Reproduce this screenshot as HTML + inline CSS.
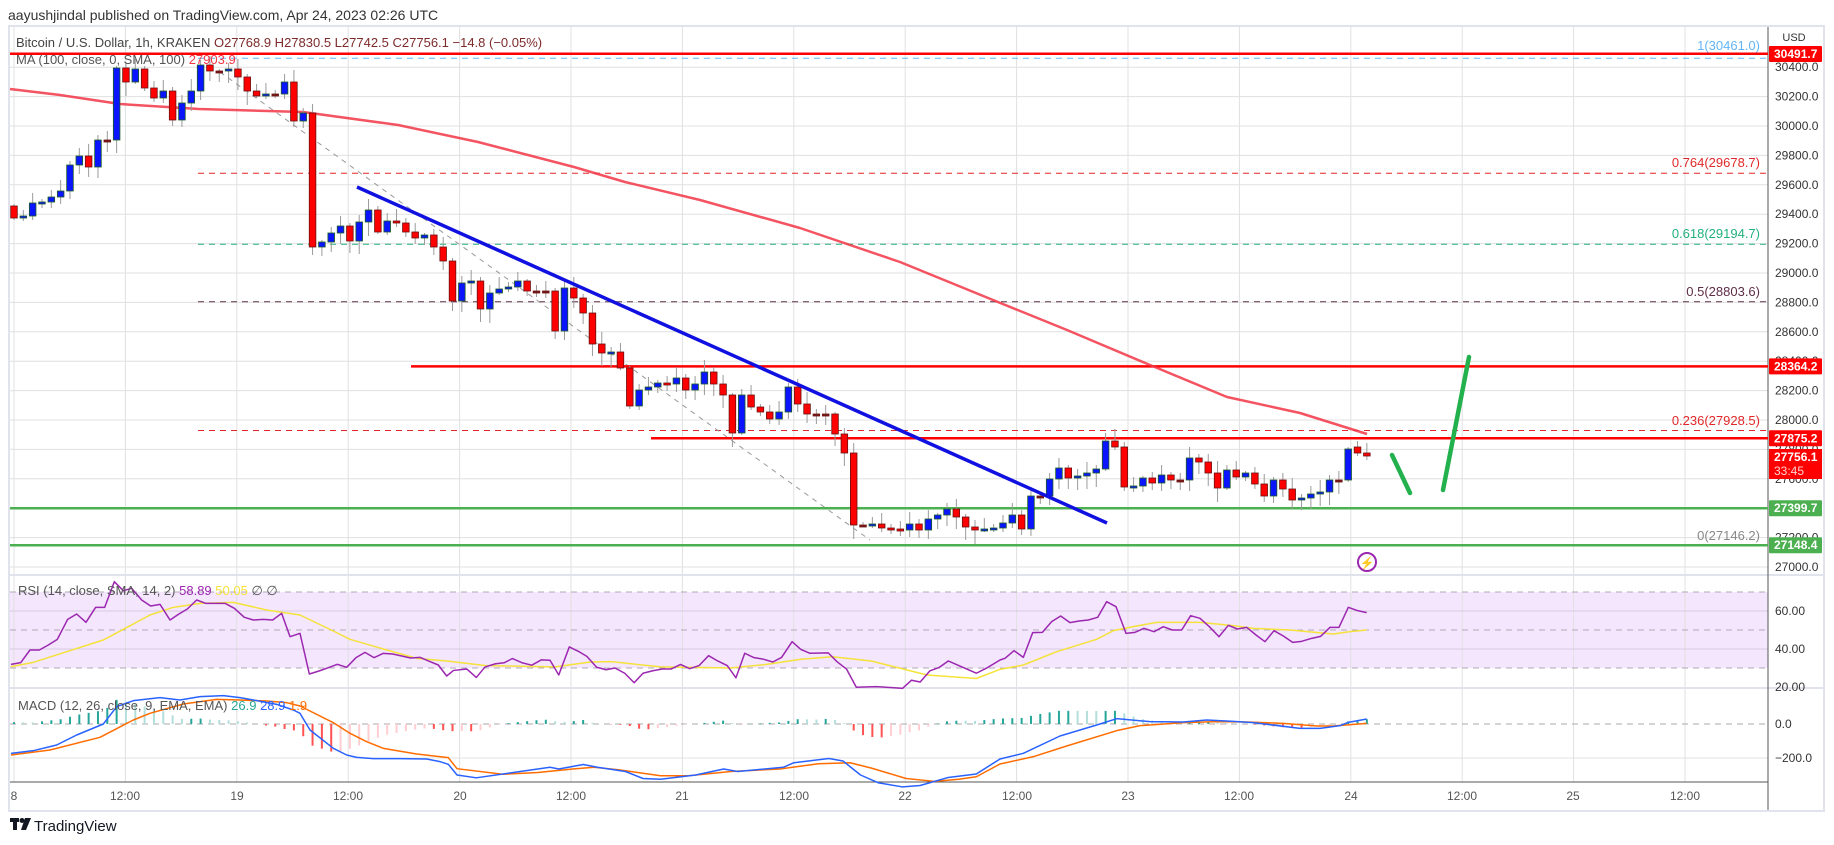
<!DOCTYPE html>
<html><head><meta charset="utf-8"><style>
html,body{margin:0;padding:0;background:#fff;width:1834px;height:845px;overflow:hidden;font-family:"Liberation Sans",sans-serif}
svg{position:absolute;left:0;top:0}
</style></head><body>
<svg id="s" width="1834" height="845" xmlns="http://www.w3.org/2000/svg" font-family="Liberation Sans, sans-serif">
<rect x="9" y="26" width="1815" height="785" fill="#fff" stroke="#e0e3eb" stroke-width="2"/>
<rect x="10" y="592" width="1758" height="76" fill="#f3e6fd"/>
<g id="grid"></g>
<g id="fib"></g>
<g id="plot"></g>
<!-- text labels -->
<text x="8" y="20" font-size="14" fill="#333">aayushjindal published on TradingView.com, Apr 24, 2023 02:26 UTC</text>
<text x="16" y="47" font-size="13" fill="#444">Bitcoin / U.S. Dollar, 1h, KRAKEN <tspan fill="#7d2a2a">O27768.9  H27830.5  L27742.5  C27756.1  −14.8 (−0.05%)</tspan></text>
<text x="16" y="64" font-size="13" fill="#555">MA (100, close, 0, SMA, 100) <tspan fill="#f23645">27903.9</tspan></text>
<text x="18" y="595" font-size="13" fill="#555">RSI (14, close, SMA, 14, 2) <tspan fill="#9c27b0">58.89</tspan> <tspan fill="#f5e23a">50.05</tspan> <tspan fill="#555">∅ ∅</tspan></text>
<text x="18" y="710" font-size="13" fill="#555">MACD (12, 26, close, 9, EMA, EMA) <tspan fill="#26a69a">26.9</tspan> <tspan fill="#2962ff">28.9</tspan> <tspan fill="#ff6d00">1.9</tspan></text>
<g font-size="13" text-anchor="end">
<text x="1760" y="50" fill="#64b5f6">1(30461.0)</text>
<text x="1760" y="167" fill="#e0282a">0.764(29678.7)</text>
<text x="1760" y="238" fill="#22b07d">0.618(29194.7)</text>
<text x="1760" y="296" fill="#5d2e46">0.5(28803.6)</text>
<text x="1760" y="425" fill="#e0282a">0.236(27928.5)</text>
<text x="1760" y="540" fill="#888">0(27146.2)</text>
</g>
<text x="1794" y="41" font-size="11" fill="#333" text-anchor="middle">USD</text>
<g id="axis" font-size="12" fill="#333"></g>
<g id="tags" font-size="12" font-weight="bold"></g>
<g font-size="12" fill="#555" text-anchor="middle">
<text x="14" y="800">8</text><text x="125" y="800">12:00</text><text x="237" y="800">19</text><text x="348" y="800">12:00</text>
<text x="460" y="800">20</text><text x="571" y="800">12:00</text><text x="682" y="800">21</text><text x="794" y="800">12:00</text>
<text x="905" y="800">22</text><text x="1017" y="800">12:00</text><text x="1128" y="800">23</text><text x="1239" y="800">12:00</text>
<text x="1351" y="800">24</text><text x="1462" y="800">12:00</text><text x="1573" y="800">25</text><text x="1685" y="800">12:00</text>
</g>
<g transform="translate(10,818)"><rect x="0" y="0" width="9" height="4" fill="#131722"/><rect x="3" y="0" width="4" height="12" fill="#131722"/><circle cx="12" cy="2.5" r="2.5" fill="#131722"/><path d="M15 0 H21 L16 12 H11 Z" fill="#131722"/></g>
<text x="34" y="831" font-size="15" fill="#131722">TradingView</text>
<circle cx="1367" cy="562" r="9" fill="#fff" stroke="#9c27b0" stroke-width="2"/>
<text x="1367" y="567" font-size="12" fill="#9c27b0" text-anchor="middle">⚡</text>
</svg>
<script>
const NS="http://www.w3.org/2000/svg";
function el(p,t,a){const e=document.createElementNS(NS,t);for(const k in a)e.setAttribute(k,a[k]);p.appendChild(e);return e;}
const grid=document.getElementById('grid'),fib=document.getElementById('fib'),plot=document.getElementById('plot'),axis=document.getElementById('axis'),tags=document.getElementById('tags');
const py=p=>567-(p-27000)*0.147;
// vertical grid
for(let k=0;k<16;k++){const x=14+111.4*k;el(grid,'line',{x1:x,y1:27,x2:x,y2:782,stroke:'#e0e0e0','stroke-width':1});}
// horizontal grid main
for(let p=27000;p<=30400;p+=200){const y=py(p);el(grid,'line',{x1:10,y1:y,x2:1768,y2:y,stroke:'#e0e0e0'});
 el(axis,'text',{x:1775,y:y+4}).textContent=p.toFixed(1);}
// rsi grid
[[611,'60.00'],[649,'40.00'],[687,'20.00']].forEach(([y,t])=>{if(y<687)el(grid,'line',{x1:10,y1:y,x2:1768,y2:y,stroke:'#d8cbe0'});el(axis,'text',{x:1775,y:y+4}).textContent=t;});
[592,630,668].forEach(y=>el(grid,'line',{x1:10,y1:y,x2:1768,y2:y,stroke:'#b0aab5','stroke-dasharray':'6,5'}));
el(grid,'line',{x1:10,y1:758,x2:1768,y2:758,stroke:'#e0e0e0'});
el(grid,'line',{x1:10,y1:724,x2:1768,y2:724,stroke:'#aaa','stroke-dasharray':'6,5'});
el(axis,'text',{x:1775,y:728}).textContent='0.0';el(axis,'text',{x:1775,y:762}).textContent='−200.0';
// separators
[575,688].forEach(y=>el(grid,'line',{x1:10,y1:y,x2:1824,y2:y,stroke:'#e0e3eb','stroke-width':2}));
el(grid,'line',{x1:10,y1:782,x2:1768,y2:782,stroke:'#555','stroke-width':1});
el(grid,'line',{x1:1768,y1:27,x2:1768,y2:810,stroke:'#555','stroke-width':1});
// fib dashed
[[58.2,'#64b5f6'],[173.2,'#e0282a'],[244.3,'#22b07d'],[301.8,'#5d2e46'],[430.5,'#e0282a']].forEach(([y,c])=>el(fib,'line',{x1:198,y1:y,x2:1768,y2:y,stroke:c,'stroke-width':1,'stroke-dasharray':'6,5'}));
el(fib,'line',{x1:220,y1:72,x2:870,y2:540,stroke:'#999','stroke-width':1,'stroke-dasharray':'5,5'});
// solid levels
el(fib,'line',{x1:10,y1:53.7,x2:1768,y2:53.7,stroke:'#ff0000','stroke-width':2.5});
el(fib,'line',{x1:411,y1:366.4,x2:1768,y2:366.4,stroke:'#ff0000','stroke-width':2.5});
el(fib,'line',{x1:651,y1:438.3,x2:1768,y2:438.3,stroke:'#ff0000','stroke-width':2.5});
el(fib,'line',{x1:10,y1:508.2,x2:1768,y2:508.2,stroke:'#4caf50','stroke-width':2.5});
el(fib,'line',{x1:10,y1:545.2,x2:1768,y2:545.2,stroke:'#4caf50','stroke-width':2.5});
// MA
function pl(pts,c,w,o){el(plot,'polyline',{points:pts.map(p=>p.join(',')).join(' '),fill:'none',stroke:c,'stroke-width':w,'stroke-opacity':o||1,'stroke-linejoin':'round'});}
pl([[10,89],[60,95],[120,104],[199,109],[303,112],[398,125],[478,142],[574,167],[625,182],[700,200],[800,228],[900,262],[993,300],[1067,330],[1150,365],[1227,397],[1300,413],[1367,434]],'#f23645',2.5,0.85);
// candles
const c=[218,216,203,202,197,191,165,156,167,140,140,68,82,69,88,98,91,120,103,91,65,71,71,69,77,91,96,94,94,82,121,113,247,242,233,226,241,222,210,232,221,223,232,238,235,247,261,301,283,281,309,293,289,287,281,291,291,291,331,288,298,313,344,353,352,368,406,390,387,383,384,378,390,384,372,384,395,433,395,407,412,419,412,387,404,414,414,414,434,453,525,525,524,528,529,530,524,530,519,515,509,517,527,530,529,528,523,515,529,496,496,479,468,478,476,473,469,441,447,487,486,478,483,475,480,480,458,462,473,488,470,477,473,484,496,480,489,500,498,494,492,480,480,449,453,456];
let prev=206;
for(let h=0;h<c.length;h++){
 const x=14+9.33*h;let o=prev,cl=c[h];if(h==144)o=447;
 const top=Math.min(o,cl),bot=Math.max(o,cl);
 const r1=((h*37)%11)+2,r2=((h*53)%13)+2;
 el(plot,'line',{x1:x,y1:top-r1,x2:x,y2:bot+r2,stroke:'#9a9a9a','stroke-width':1});
 const up=cl<o-0.5;const hh=Math.max(bot-top,2);
 el(plot,'rect',{x:x-3.3,y:top,width:6.6,height:hh,fill:up?'#0a14ff':(Math.abs(cl-o)<1?'#7b1c1c':'#ff0000'),stroke:up?'#1b5e20':'#6b1010','stroke-width':0.8});
 prev=cl;
}
// trendline & arrows
el(plot,'line',{x1:357,y1:187,x2:1107,y2:523,stroke:'#1010e0','stroke-width':3.5});
el(plot,'line',{x1:1392,y1:455,x2:1410,y2:493,stroke:'#22b14c','stroke-width':4.5,'stroke-linecap':'round'});
el(plot,'line',{x1:1443,y1:490,x2:1469,y2:357,stroke:'#22b14c','stroke-width':4.5,'stroke-linecap':'round'});
// helpers for zoom coords
const z3=(ox,oy,a)=>a.map(([zx,zy])=>[ox+zx/3,oy+zy/3]);
const z9=a=>a.map(([zx,zy])=>[450+zx/2.85,575+zy/2.85]);
function merge(...arrs){let all=[].concat(...arrs).sort((a,b)=>a[0]-b[0]);let out=[];all.forEach(p=>{if(!out.length||p[0]-out[out.length-1][0]>2)out.push(p);});return out;}
// RSI
const rsi=merge(z3(0,500,[[33,493],[62,488],[90,450],[118,450],[145,435],[172,418],[203,358],[230,342],[258,367],[287,322],[314,322],[343,245],[370,272],[395,265],[425,300],[452,318],[480,313],[510,360],[535,343],[562,327],[590,300],[617,310],[645,310],[675,310],[703,325],[733,352],[760,360],[789,358],[818,360],[845,340],[870,410],[900,400],[928,522],[957,513],[985,503],[1012,493],[1040,502],[1068,473],[1095,457],[1122,473],[1150,460],[1178,462],[1205,468],[1232,474],[1260,472],[1288,484],[1315,495],[1340,528]]),
 z9([[10,272],[48,268],[75,292],[100,262],[130,253],[155,250],[178,238],[205,250],[233,257],[260,242],[285,243],[310,285],[340,205],[365,217],[390,232],[418,263],[445,270],[470,265],[498,280],[525,307],[550,280],[578,273],[605,268],[630,268],[657,255],[683,267],[710,258],[737,230],[763,245],[790,258],[815,293],[840,223],[865,235],[893,240],[920,248],[945,235],[975,190],[1000,212],[1025,223],[1078,222],[1103,247],[1130,268],[1158,320],[1215,318],[1290,323],[1315,300],[1340,305],[1368,273],[1395,263],[1420,245],[1450,258],[1500,280],[1530,265]]),
 z3(1000,560,[[0,300],[15,295],[42,272],[70,292],[98,218],[127,217],[155,185],[182,168],[210,188],[237,183],[265,180],[293,172],[320,125],[348,140],[378,220],[405,217],[432,205],[462,215],[490,200],[517,210],[545,210],[572,167],[600,175],[628,200],[657,230],[685,196],[712,207],[740,202],[768,225],[795,245],[822,212],[850,228],[878,247],[905,244],[935,235],[962,229],[990,202],[1017,202],[1045,142],[1073,152],[1100,158]]));
const rsima=merge(z3(0,500,[[33,500],[100,487],[200,455],[310,420],[370,388],[450,345],[520,322],[600,310],[700,307],[800,330],[900,345],[1000,393],[1050,418],[1150,447],[1250,475],[1340,483]]),
 z9([[100,258],[300,262],[400,248],[460,247],[600,262],[800,265],[900,255],[1000,240],[1090,233],[1200,245],[1300,270],[1360,285],[1500,295]]),
 z3(1000,560,[[0,328],[70,315],[170,275],[290,238],[340,212],[400,200],[470,187],[600,187],[700,197],[760,205],[870,210],[1000,222],[1050,215],[1100,210]]));
pl(rsima,'#f5e23a',1.5);pl(rsi,'#9c27b0',1.5);
// MACD
const mb=merge(z3(0,500,[[33,760],[100,752],[170,735],[230,705],[310,672],[350,620],[400,602],[480,593],[540,600],[600,590],[670,587],[720,593],[760,600],[830,613],[880,630],[900,640],[930,690],[1000,745],[1040,765],[1070,772],[1120,776],[1200,776],[1280,777],[1320,785],[1345,793]]),
 z9([[20,570],[75,578],[200,560],[285,548],[310,553],[380,540],[420,548],[500,560],[550,580],[600,582],[700,570],[780,553],[820,560],[950,548],[980,535],[1080,523],[1120,530],[1170,570],[1220,592],[1290,604],[1340,600],[1420,577],[1500,567]]),
 z3(1000,560,[[0,597],[70,580],[180,528],[290,495],[350,476],[450,485],[550,486],[620,480],[700,484],[760,488],[900,505],[960,505],[1020,497],[1045,487],[1100,477]]));
const mo=merge(z3(0,500,[[33,765],[150,750],[300,712],[400,660],[450,640],[550,612],[650,598],[720,600],[800,603],[860,608],[900,618],[1000,668],[1050,700],[1100,725],[1150,745],[1250,762],[1345,773]]),
 z9([[20,552],[150,568],[250,563],[350,553],[410,548],[480,555],[600,572],[680,572],[800,560],[940,553],[1050,538],[1140,535],[1200,550],[1300,580],[1380,588],[1450,582],[1500,575]]),
 z3(1000,560,[[0,612],[100,590],[200,558],[350,512],[420,497],[550,488],[650,485],[740,486],[850,490],[950,498],[1000,498],[1100,490]]));
function interp(a,x){if(x<=a[0][0])return a[0][1];for(let i=1;i<a.length;i++){if(x<=a[i][0]){const t=(x-a[i-1][0])/(a[i][0]-a[i-1][0]);return a[i-1][1]+t*(a[i][1]-a[i-1][1]);}}return a[a.length-1][1];}
let pd=0;
for(let h=0;h<146;h++){const x=14+9.33*h;const d=(interp(mo,x)-interp(mb,x))*1.1;
 const col=d>=0?(d>=pd?'#26a69a':'#b2dfdb'):(d<=pd?'#ff5252':'#ffcdd2');
 el(plot,'line',{x1:x,y1:724,x2:x,y2:724-d,stroke:col,'stroke-width':2});pd=d;}
pl(mo,'#ff6d00',1.5);pl(mb,'#2962ff',1.5);
// tags
function tag(y,t,c,h){el(tags,'rect',{x:1769,y:y-(h||16)/2,width:53,height:h||16,fill:c,rx:1});}
function tt(y,t){const e=el(tags,'text',{x:1774,y:y+4,fill:'#fff'});e.textContent=t;}
tag(54,'', '#ff0000');tt(54,'30491.7');
tag(366.4,'','#ff0000');tt(366.4,'28364.2');
tag(438.3,'','#ff0000');tt(438.3,'27875.2');
el(tags,'rect',{x:1769,y:449,width:53,height:30,fill:'#ff0000'});tt(457,'27756.1');
const tm=el(tags,'text',{x:1774,y:475,fill:'#ffd0d0','font-weight':'normal'});tm.textContent='33:45';
tag(508.2,'','#4caf50');tt(508.2,'27399.7');
tag(545.2,'','#4caf50');tt(545.2,'27148.4');
</script>
</body></html>
